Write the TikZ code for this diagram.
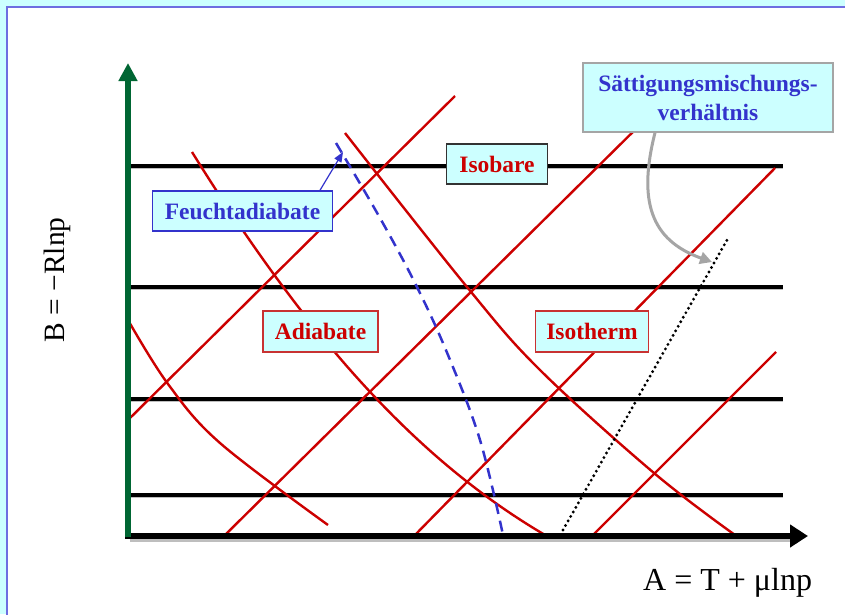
\documentclass[tikz,border=0pt]{standalone}
\usepackage{fontspec}
\setmainfont{Liberation Serif}
\usetikzlibrary{arrows.meta}
\definecolor{bgcyan}{RGB}{204,255,255}
\definecolor{frameblue}{RGB}{110,110,225}
\definecolor{dred}{RGB}{204,0,0}
\definecolor{boxred}{RGB}{200,50,50}
\definecolor{dgreen}{RGB}{0,102,51}
\definecolor{lblue}{RGB}{51,51,204}
\definecolor{lgray}{RGB}{165,165,165}
\definecolor{shadowgray}{RGB}{190,190,190}
\tikzset{
  labelbox/.style={draw, line width=1.4pt, fill=bgcyan, inner sep=0pt, minimum height=40pt,
    font=\bfseries\fontsize{23.5}{29}\selectfont},
  redline/.style={dred, line width=2.4pt},
  isobar/.style={black, line width=3.2pt},
  isobarshadow/.style={shadowgray, line width=2.5pt},
}
\begin{document}
\begin{tikzpicture}[x=1pt,y=-1pt]
\useasboundingbox (0,0) rectangle (845,614);
% frame
\fill[bgcyan] (0,0) rectangle (845,614);
\fill[white] (7,7) rectangle (846,615);
\draw[frameblue, line width=2pt] (7,616) -- (7,7) -- (846,7);

% isobars
\foreach \yy in {166,287,399,495} {
  \draw[isobarshadow] (128,\yy+2) -- (783,\yy+2);
  \draw[isobar] (128,\yy) -- (783,\yy);
}

% dry adiabats (straight)
\draw[redline] (128,420) -- (455,96);
\draw[redline] (225,535) -- (648,117);
\draw[redline] (415,535) -- (775,168);
\draw[redline] (593,535) -- (776,352);

% isotherms (curved)
\draw[redline] plot[smooth, tension=0.6] coordinates {(128,320) (168,384) (220,443) (328,525)};
\draw[redline] (192,152) .. controls (316,352) and (426,465) .. (545,535);
\draw[redline] plot[smooth, tension=0.6] coordinates {(345,133) (467,287) (540,370) (654,473) (735,535)};

% moist adiabat
\draw[lblue, line width=2.5pt, dash pattern=on 11pt off 7pt] plot[smooth, tension=0.6] coordinates {(336,143) (380,218) (417,287) (448,355) (480,440) (503,535)};

% saturation mixing ratio
\coordinate (dotA) at (563,530);
\coordinate (dotB) at (727,240);
\draw[black, line width=3.2pt, line cap=round, dash pattern=on 0pt off 5.2pt] (dotA) -- (dotB);

% axes
\coordinate (orig) at (128,536);
\coordinate (ytip) at (128,63);
\coordinate (xtip) at (808,536);
\draw[shadowgray, line width=5pt] (130,539) -- (790,539);
\draw[black, line width=6pt, -{Triangle[width=22pt,length=18pt]}] (125,536) -- (xtip);
\draw[dgreen, line width=6pt, -{Triangle[width=18pt,length=18pt]}] (128,537) -- (ytip);

% labels
\node[labelbox, draw=lblue, text=lblue, minimum width=180pt] (feucht) at (242.5,211) {Feuchtadiabate};
\node[labelbox, draw=black!80, text=dred, minimum width=101pt] (isobare) at (497,164) {Isobare};
\node[labelbox, draw=boxred, text=dred, minimum width=115pt, minimum height=41pt] (adiabate) at (320.5,331.5) {Adiabate};
\node[labelbox, draw=boxred, text=dred, minimum width=113pt, minimum height=41pt] (isotherm) at (592,331.5) {Isotherm};
\node[labelbox, draw=lgray, text=lblue, minimum width=250pt, minimum height=69pt, align=center] (satt) at (708,97.5) {Sättigungsmischungs-\\verhältnis};

% connectors
\coordinate (feuchttip) at (343,152);
\draw[lblue, line width=1.2pt, -{Triangle[width=8pt,length=10pt]}] (feucht.north -| 320,0) -- (feuchttip);
\coordinate (satttip) at (712,262);
\draw[lgray, line width=3pt, -{Triangle[width=12pt,length=12pt]}] (satt.south -| 655,0) .. controls (638,200) and (650,240) .. (satttip);

% axis titles
\node[rotate=90, font=\fontsize{29.5}{32}\selectfont, inner sep=0pt] (blabel) at (57,280) {B = −Rlnp};
\node[font=\fontsize{32}{36}\selectfont, inner sep=0pt, anchor=base west] (alabel) at (643,590) {A = T + μlnp};
\end{tikzpicture}
\end{document}
